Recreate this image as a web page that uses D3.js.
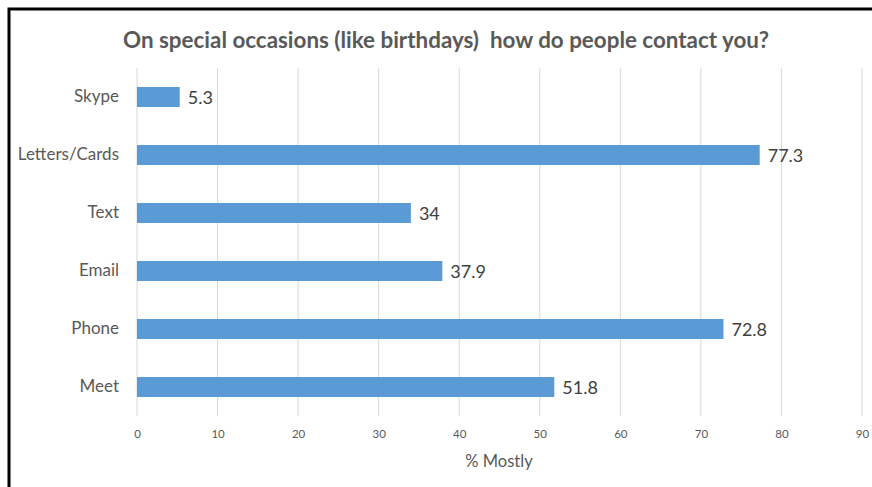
<!DOCTYPE html>
<html>
<head>
<meta charset="utf-8">
<script src="https://cdn.jsdelivr.net/npm/d3@7"></script>
<style>
  html, body { margin: 0; padding: 0; background: #fff; }
  svg { display: block; }
</style>
</head>
<body>
<svg id="chart" width="872" height="487"></svg>
<script>
// Survey answers: share of respondents who are mostly contacted this way
const categories = ["Skype", "Letters/Cards", "Text", "Email", "Phone", "Meet"];
const values = [5.3, 77.3, 34, 37.9, 72.8, 51.8];
const xTicks = [0, 10, 20, 30, 40, 50, 60, 70, 80, 90];
const titleText = "On special occasions (like birthdays)  how do people contact you?";
const axisTitle = "% Mostly";

const svg = d3.select("#chart");
const W = 872, H = 487;
const font = "Lato, 'Open Sans', sans-serif";

svg.append("rect").attr("width", W).attr("height", H).attr("fill", "#fff");

// Frame (top and left edges visible)
svg.append("path")
  .attr("d", `M9,${H} L9,9 L${W},9`)
  .attr("fill", "none").attr("stroke", "#000").attr("stroke-width", 3);

const plot = { left: 137, right: 862, top: 68, bottom: 416 };

const x = d3.scaleLinear().domain([0, 90]).range([plot.left, plot.right]);
const y = d3.scaleBand().domain(categories).range([plot.top, plot.bottom]).paddingInner(0.655).paddingOuter(0.3275);

// Vertical gridlines
svg.append("g").selectAll("line").data(xTicks).join("line")
  .attr("x1", d => x(d)).attr("x2", d => x(d))
  .attr("y1", plot.top).attr("y2", plot.bottom)
  .attr("stroke", "#d9d9d9").attr("stroke-width", 1);

// Bottom axis labels
const xAxis = d3.axisBottom(x).tickValues(xTicks).tickSize(0).tickPadding(0);
const gx = svg.append("g").attr("transform", `translate(0,${plot.bottom + 14})`).call(xAxis);
gx.select(".domain").remove();
gx.selectAll("text").attr("font-family", font).attr("font-size", 11.5).attr("fill", "#595959").attr("dy", "0.71em");

// Category labels
const yAxis = d3.axisLeft(y).tickSize(0).tickPadding(0);
const gy = svg.append("g").attr("transform", `translate(119,0)`).call(yAxis);
gy.select(".domain").remove();
gy.selectAll("text").attr("font-family", font).attr("font-size", 17).attr("fill", "#595959");

// Bars
svg.append("g").selectAll("rect").data(values).join("rect")
  .attr("x", x(0))
  .attr("y", (d, i) => y(categories[i]))
  .attr("width", d => x(d) - x(0))
  .attr("height", y.bandwidth())
  .attr("fill", "#5b9bd5");

// Value labels
svg.append("g").selectAll("text").data(values).join("text")
  .attr("x", d => x(d) + 8)
  .attr("y", (d, i) => y(categories[i]) + y.bandwidth() / 2 + 1)
  .attr("dy", "0.35em")
  .attr("font-family", font).attr("font-size", 18).attr("fill", "#404040")
  .text(d => d);

// Title
svg.append("text")
  .attr("x", 446).attr("y", 48)
  .attr("text-anchor", "middle")
  .attr("font-family", font).attr("font-size", 22.4).attr("font-weight", "bold").attr("fill", "#595959")
  .attr("xml:space", "preserve")
  .text(titleText);

// Axis title
svg.append("text")
  .attr("x", 499).attr("y", 467)
  .attr("text-anchor", "middle")
  .attr("font-family", font).attr("font-size", 16.5).attr("fill", "#595959")
  .text(axisTitle);
</script>
</body>
</html>
